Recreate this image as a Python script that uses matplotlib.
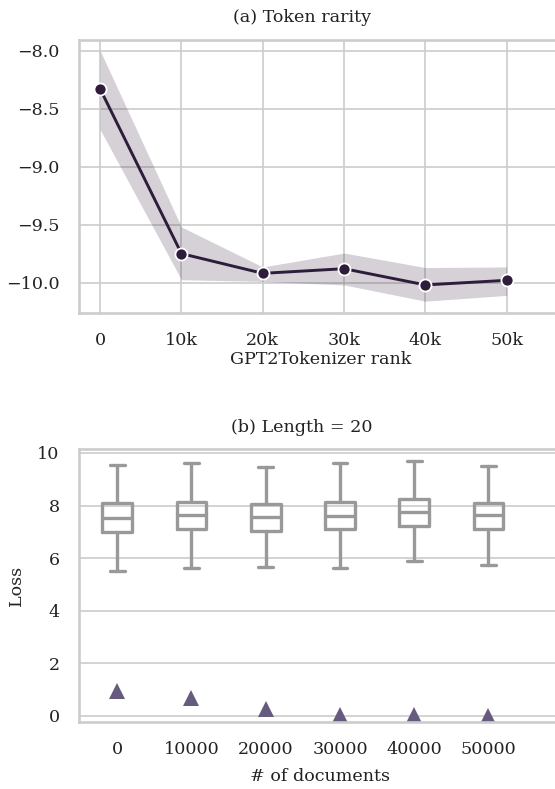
import matplotlib
matplotlib.use("Agg")
import matplotlib.pyplot as plt
import seaborn as sns

# (a) token rarity vs tokenizer rank
ranks = [0, 10000, 20000, 30000, 40000, 50000]
rank_labels = ["0", "10k", "20k", "30k", "40k", "50k"]
rarity_mean = [-8.33, -9.75, -9.92, -9.88, -10.02, -9.98]
rarity_low = [-8.68, -9.975, -9.99, -10.02, -10.16, -10.11]
rarity_high = [-8.0, -9.52, -9.865, -9.745, -9.87, -9.865]

# (b) loss vs number of documents
doc_labels = ["0", "10000", "20000", "30000", "40000", "50000"]
box_whislo = [5.51, 5.63, 5.68, 5.64, 5.90, 5.75]
box_q1 = [7.00, 7.09, 7.05, 7.10, 7.22, 7.10]
box_med = [7.54, 7.65, 7.57, 7.61, 7.74, 7.63]
box_q3 = [8.08, 8.13, 8.06, 8.13, 8.26, 8.10]
box_whishi = [9.56, 9.61, 9.45, 9.61, 9.70, 9.51]
tri_loss = [0.95, 0.69, 0.25, 0.05, 0.05, 0.0]

sns.set_theme(style="whitegrid")
plt.rcParams["font.family"] = ["DejaVu Serif"]
plt.rcParams["axes.edgecolor"] = "#cccccc"
plt.rcParams["axes.linewidth"] = 1.9
plt.rcParams["grid.linewidth"] = 1.2
plt.rcParams["grid.color"] = "#cccccc"

fs = 12.6
txt_c = "#222222"
W, H = 555, 789
fig = plt.figure(figsize=(W / 100, H / 100), dpi=100)

line_c = "#2d1d3b"
ax1 = fig.add_axes([79 / W, 1 - 313 / H, (562 - 79) / W, (313 - 40) / H])
ax1.fill_between(ranks, rarity_low, rarity_high, color=line_c, alpha=0.2, linewidth=0)
ax1.plot(ranks, rarity_mean, color=line_c, linewidth=2.1, marker="o", markersize=8.7,
         markeredgecolor="white", markeredgewidth=1.3)
ax1.set_xlim(-2600, 56800)
ax1.set_ylim(-10.262, -7.908)
ax1.set_xticks(ranks)
ax1.set_xticklabels(rank_labels)
ax1.set_yticks([-8.0, -8.5, -9.0, -9.5, -10.0])
ax1.set_yticklabels(["\u22128.0", "\u22128.5", "\u22129.0", "\u22129.5", "\u221210.0"])
ax1.set_xlabel("GPT2Tokenizer rank", fontsize=fs, labelpad=1, color=txt_c)
ax1.tick_params(axis="both", labelsize=fs, length=0, pad=14, colors=txt_c)
ax1.spines["right"].set_visible(False)

ax2 = fig.add_axes([79 / W, 1 - 722 / H, (562 - 79) / W, (722 - 449) / H])
stats = []
for i in range(len(doc_labels)):
    stats.append({"whislo": box_whislo[i], "q1": box_q1[i], "med": box_med[i],
                  "q3": box_q3[i], "whishi": box_whishi[i], "fliers": []})
gray = "#999999"
ax2.bxp(stats, positions=list(range(len(doc_labels))), widths=0.4, showfliers=False,
        boxprops=dict(color=gray, linewidth=2.4),
        whiskerprops=dict(color=gray, linewidth=2.4),
        capprops=dict(color=gray, linewidth=2.4, solid_capstyle="round"),
        medianprops=dict(color=gray, linewidth=2.4))
ax2.plot(range(len(doc_labels)), tri_loss, linestyle="none", marker="^", markersize=11,
         color="#665a7e", markeredgewidth=0)
ax2.set_xlim(-0.514, 5.99)
ax2.set_ylim(-0.23, 10.15)
ax2.set_xticks(range(len(doc_labels)))
ax2.set_xticklabels(doc_labels)
ax2.set_yticks([0, 2, 4, 6, 8, 10])
ax2.set_ylabel("Loss", fontsize=fs, labelpad=9, color=txt_c)
ax2.set_xlabel("# of documents", fontsize=fs, labelpad=7, color=txt_c)
ax2.tick_params(axis="both", labelsize=fs, length=0, pad=14, colors=txt_c)
ax2.grid(axis="x", visible=False)
ax2.spines["right"].set_visible(False)

fig.text(302 / W, 1 - 18 / H, "(a) Token rarity", ha="center", va="center", fontsize=fs, color=txt_c)
fig.text(302 / W, 1 - 427 / H, "(b) Length = 20", ha="center", va="center", fontsize=fs, color=txt_c)

fig.savefig("out.png", dpi=100)
